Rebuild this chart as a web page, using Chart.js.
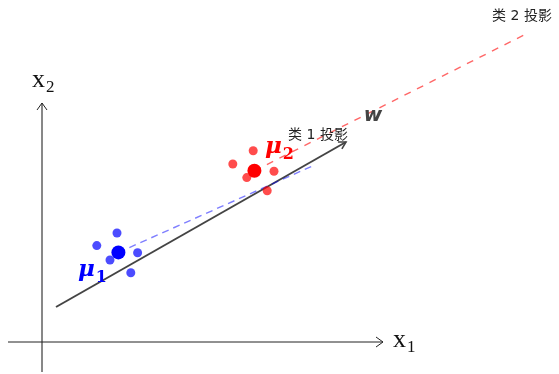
<!DOCTYPE html>
<html><head><meta charset="utf-8">
<script src="https://cdn.jsdelivr.net/npm/chart.js@4"></script>
<style>html,body{margin:0;padding:0;background:#fff}#wrap{width:559px;height:374px}</style>
</head><body><div id="wrap"><canvas id="c" width="559" height="374"></canvas></div>
<script>
// ---- data (diagram units) ----
const class1X = [1.875, 1.37, 1.70, 2.39, 2.22];
const class1Y = [2.725, 2.41, 2.05, 2.23, 1.73];
const class2X = [5.28, 4.77, 5.12, 5.80, 5.63];
const class2Y = [4.78, 4.45, 4.11, 4.27, 3.78];
const mean1 = [1.91, 2.24];
const mean2 = [5.31, 4.28];
const wStart = [0.35, 0.875];
const wEnd = [7.6, 5.0];
const proj1End = [6.83, 4.43];
const proj2End = [12.1, 7.7];
const axisXLine = [[-0.85, 0], [8.525, 0]];
const axisYLine = [[0, -0.75], [0, 5.975]];
const labelTexts = ['类 1 投影', '类 2 投影'];
const labelAnchors = [[6.9, 5.16], [12.0, 8.14]];

const pts = (xs, ys) => xs.map((x, i) => ({x, y: ys[i]}));
const seg = (a, b) => [{x: a[0], y: a[1]}, {x: b[0], y: b[1]}];

function arrowHead(ctx, x0, y0, x1, y1, len, half, color, lw) {
  const ang = Math.atan2(y1 - y0, x1 - x0);
  ctx.save();
  ctx.strokeStyle = color; ctx.lineWidth = lw;
  ctx.beginPath();
  ctx.moveTo(x1 - len * Math.cos(ang) + half * Math.sin(ang), y1 - len * Math.sin(ang) - half * Math.cos(ang));
  ctx.lineTo(x1, y1);
  ctx.lineTo(x1 - len * Math.cos(ang) - half * Math.sin(ang), y1 - len * Math.sin(ang) + half * Math.cos(ang));
  ctx.stroke();
  ctx.restore();
}

function subText(ctx, x, y, main, sub, mainFont, subFont, color, dy) {
  ctx.save();
  ctx.fillStyle = color;
  ctx.textBaseline = 'alphabetic';
  ctx.textAlign = 'left';
  ctx.font = mainFont;
  ctx.fillText(main, x, y);
  const w = ctx.measureText(main).width;
  ctx.font = subFont;
  ctx.fillText(sub, x + w + 1, y + dy);
  ctx.restore();
}

const deco = {
  id: 'deco',
  afterDatasetsDraw(chart) {
    const {ctx, scales: {x, y}} = chart;
    const px = v => x.getPixelForValue(v), py = v => y.getPixelForValue(v);
    // axis arrowheads
    arrowHead(ctx, px(axisXLine[0][0]), py(axisXLine[0][1]), px(axisXLine[1][0]), py(axisXLine[1][1]), 7, 5, '#222', 1);
    arrowHead(ctx, px(axisYLine[0][0]), py(axisYLine[0][1]), px(axisYLine[1][0]), py(axisYLine[1][1]), 7, 5, '#222', 1);
    // w arrowhead
    arrowHead(ctx, px(wStart[0]), py(wStart[1]), px(wEnd[0]), py(wEnd[1]), 7, 4, '#444', 1.6);
    // axis labels
    subText(ctx, px(8.775), py(-0.125), 'x', '1', '26px "Liberation Serif"', '17px "Liberation Serif"', '#111', 5);
    subText(ctx, px(-0.25), py(6.375), 'x', '2', '26px "Liberation Serif"', '17px "Liberation Serif"', '#111', 5);
    // mean labels
    subText(ctx, px(0.9), py(1.65), 'μ', '1', 'bold italic 23px "DejaVu Serif"', 'bold 16px "DejaVu Serif"', '#0000ff', 6);
    subText(ctx, px(5.575), py(4.725), 'μ', '2', 'bold italic 23px "DejaVu Serif"', 'bold 16px "DejaVu Serif"', '#ff0000', 6);
    // w label
    ctx.save();
    ctx.fillStyle = '#444';
    ctx.font = 'bold oblique 20px "DejaVu Sans"';
    ctx.textAlign = 'center'; ctx.textBaseline = 'middle';
    ctx.fillText('w', px(8.275), py(5.65));
    // projection labels
    ctx.fillStyle = '#222';
    ctx.font = '14px "DejaVu Sans", "Noto Sans CJK SC"';
    labelTexts.forEach((t, i) => ctx.fillText(t, px(labelAnchors[i][0]), py(labelAnchors[i][1])));
    ctx.restore();
  }
};

new Chart(document.getElementById('c'), {
  type: 'scatter',
  data: {
    datasets: [
      {data: seg(axisXLine[0], axisXLine[1]), showLine: true, borderColor: '#222', borderWidth: 1, pointRadius: 0, order: 10, clip: false},
      {data: seg(axisYLine[0], axisYLine[1]), showLine: true, borderColor: '#111', borderWidth: 1, pointRadius: 0, order: 10, clip: false},
      {data: seg(wStart, wEnd), showLine: true, borderColor: '#444', borderWidth: 2, pointRadius: 0, order: 9, clip: false},
      {data: seg(mean1, proj1End), showLine: true, borderColor: 'rgba(0,0,255,0.5)', borderWidth: 1.4, borderDash: [7, 5], pointRadius: 0, order: 8, clip: false},
      {data: seg(mean2, proj2End), showLine: true, borderColor: 'rgba(255,0,0,0.6)', borderWidth: 1.4, borderDash: [7, 7], pointRadius: 0, order: 8, clip: false},
      {data: pts(class1X, class1Y), backgroundColor: 'rgba(0,0,255,0.7)', borderWidth: 0, pointRadius: 4.5, order: 5, clip: false},
      {data: pts(class2X, class2Y), backgroundColor: 'rgba(255,0,0,0.7)', borderWidth: 0, pointRadius: 4.5, order: 5, clip: false},
      {data: [{x: mean1[0], y: mean1[1]}], backgroundColor: '#0000ff', borderWidth: 0, pointRadius: 7, order: 1, clip: false},
      {data: [{x: mean2[0], y: mean2[1]}], backgroundColor: '#ff0000', borderWidth: 0, pointRadius: 7, order: 1, clip: false}
    ]
  },
  options: {
    responsive: false,
    animation: false,
    layout: {padding: 0, autoPadding: false},
    plugins: {legend: {display: false}, tooltip: {enabled: false}},
    scales: {
      x: {type: 'linear', display: false, min: -1.05, max: 12.925},
      y: {type: 'linear', display: false, min: -0.8, max: 8.55}
    }
  },
  plugins: [deco]
});
</script></body></html>
